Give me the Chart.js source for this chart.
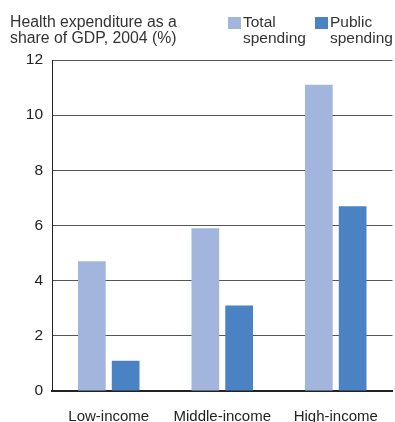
<!DOCTYPE html>
<html>
<head>
<meta charset="utf-8">
<script src="https://cdn.jsdelivr.net/npm/chart.js@4"></script>
<style>
  html, body { margin: 0; padding: 0; background: #fff; overflow: hidden; }
  #wrap { position: relative; width: 395px; height: 422px; font-family: 'Liberation Sans', Arial, sans-serif; color: #333; }
  #titolo { position: absolute; left: 10px; top: 14px; font-size: 15.8px; line-height: 16px; }
  .voce { position: absolute; top: 14px; font-size: 15.5px; line-height: 16px; }
  .quadrato { position: absolute; left: -15px; top: 3px; width: 13px; height: 12px; }
  canvas { position: absolute; left: 0; top: 0; }
</style>
</head>
<body>
<div id="wrap">
  <canvas id="graficoSpesa" width="395" height="422"></canvas>
  <div id="titolo">Health expenditure as a<br>share of GDP, 2004 (%)</div>
  <div class="voce" style="left:243px"><span class="quadrato" style="background:#a2b6dd"></span>Total<br>spending</div>
  <div class="voce" style="left:330px"><span class="quadrato" style="background:#4a82c3"></span>Public<br>spending</div>
</div>
<script>
// Dati
const categorie = ['Low-income', 'Middle-income', 'High-income'];
const spesaTotale = [4.7, 5.9, 11.1];
const spesaPubblica = [1.1, 3.1, 6.7];
const tickY = [0, 2, 4, 6, 8, 10, 12];

Chart.defaults.font.family = "'Liberation Sans', Arial, sans-serif";
Chart.defaults.color = '#333';

const ctx = document.getElementById('graficoSpesa').getContext('2d');

new Chart(ctx, {
    type: 'bar',
    data: {
        labels: categorie,
        datasets: [{
            label: 'Total spending',
            data: spesaTotale,
            backgroundColor: '#a2b6dd'
        },
        {
            label: 'Public spending',
            data: spesaPubblica,
            backgroundColor: '#4a82c3'
        }]
    },
    options: {
        responsive: false,
        animation: false,
        categoryPercentage: 0.596,
        barPercentage: 0.82,
        layout: { padding: { top: 60, right: 1, left: 0, bottom: 0 } },
        plugins: {
            legend: { display: false },
            tooltip: { enabled: false }
        },
        scales: {
            x: {
                afterFit: (asse) => { asse.height = 31; },
                grid: { display: false, drawTicks: false },
                border: { color: '#222', width: 2 },
                ticks: { font: { size: 15 }, padding: 17, color: '#222' }
            },
            y: {
                min: 0,
                max: 12,
                afterBuildTicks: (asse) => { asse.ticks = tickY.map(v => ({ value: v })); },
                afterFit: (asse) => { asse.width = 52; },
                grid: { color: '#555', drawTicks: false, z: -1 },
                border: { color: '#222', width: 1 },
                ticks: { font: { size: 15.5 }, padding: 9, color: '#222' }
            }
        }
    }
});
</script>
</body>
</html>
